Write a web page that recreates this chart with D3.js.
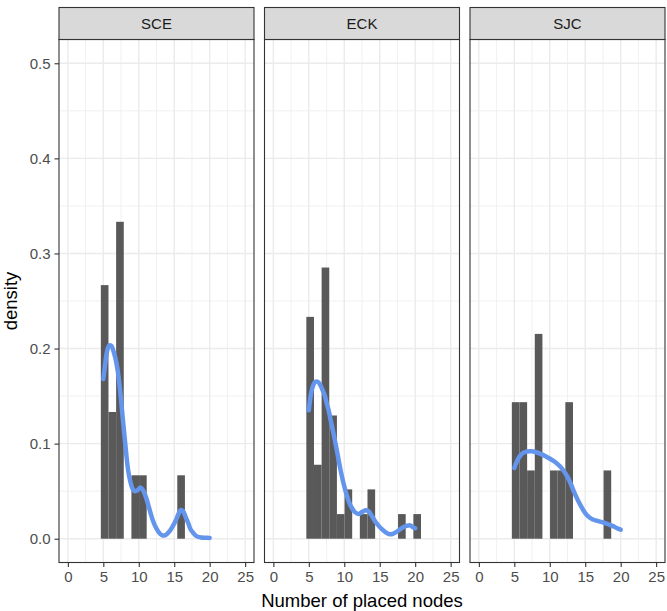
<!DOCTYPE html>
<html><head><meta charset="utf-8">
<script src="https://cdn.jsdelivr.net/npm/d3@7"></script>
<style>body{margin:0;background:#fff} svg{display:block;font-family:"Liberation Sans",Arial,sans-serif}</style>
</head><body><svg id="chart" width="667" height="611"></svg>
<script>
// ---- data ----
const panels = ["SCE", "ECK", "SJC"];
const binStart = 4.65, binWidth = 1.078;
const sceDensity = [0.2667,0.1333,0.3333,0,0.0667,0.0667,0,0,0,0,0.0667,0,0,0,0];
const eckDensity = [0.2333,0.0778,0.2852,0.1296,0.0259,0.0519,0,0.0259,0.0519,0,0,0,0.0259,0,0.0259];
const sjcDensity = [0.1436,0.1436,0.0718,0.2154,0,0.0718,0.0718,0.1436,0,0,0,0,0.0718,0,0];

const sceCurveX = [5,5.25,5.5,5.8,6.1,6.4,6.7,7.0,7.25,7.5,7.75,8.0,8.25,8.5,8.75,9.1,9.4,9.8,10.25,10.6,11.0,11.4,11.7,12.0,12.4,12.8,13.3,13.8,14.25,14.7,15.2,15.6,15.9,16.25,16.6,17.0,17.3,17.7,18.2,18.8,19.4,20];
const sceCurveY = [0.168,0.183,0.196,0.203,0.203,0.198,0.19,0.178,0.164,0.146,0.126,0.107,0.088,0.072,0.062,0.053,0.050,0.051,0.054,0.051,0.044,0.034,0.026,0.019,0.012,0.007,0.0035,0.004,0.007,0.012,0.019,0.026,0.030,0.029,0.023,0.016,0.010,0.006,0.0025,0.0012,0.001,0.0008];
const eckCurveX = [5,5.3,5.6,5.9,6.25,6.6,6.9,7.2,7.5,7.8,8.1,8.5,8.9,9.4,9.9,10.3,10.7,11.1,11.5,12.0,12.5,13.0,13.4,13.8,14.3,14.8,15.3,15.8,16.3,16.8,17.3,17.8,18.3,18.8,19.3,19.7,20];
const eckCurveY = [0.135,0.152,0.161,0.165,0.165,0.162,0.157,0.152,0.143,0.135,0.124,0.110,0.095,0.075,0.058,0.047,0.038,0.032,0.028,0.026,0.028,0.030,0.029,0.025,0.019,0.014,0.010,0.007,0.005,0.005,0.007,0.0095,0.012,0.0135,0.014,0.012,0.011];
const sjcCurveX = [5,5.4,5.8,6.3,6.8,7.4,8.0,8.7,9.4,10.1,10.8,11.4,12.0,12.5,13.0,13.5,14.0,14.5,15.0,15.5,16.0,16.6,17.2,17.8,18.4,19.0,19.5,20];
const sjcCurveY = [0.0745,0.082,0.087,0.0905,0.0918,0.092,0.0912,0.0893,0.0868,0.0838,0.0805,0.0765,0.071,0.065,0.057,0.048,0.040,0.033,0.027,0.023,0.0205,0.019,0.0178,0.0165,0.0148,0.013,0.011,0.0095];

const xTicks = [0,5,10,15,20,25];
const yTicks = [0,0.1,0.2,0.3,0.4,0.5];
const xMinor = [2.5,7.5,12.5,17.5,22.5];
const yMinor = [0.05,0.15,0.25,0.35,0.45];

const densities = [sceDensity, eckDensity, sjcDensity];
const curvesX = [sceCurveX, eckCurveX, sjcCurveX];
const curvesY = [sceCurveY, eckCurveY, sjcCurveY];

// ---- layout ----
const svg = d3.select("#chart");
const left = 59, panelW = 195, gap = 10.5;
const stripTop = 7.5, stripH = 32, panelTop = 39.5, panelBottom = 562.5;

const y = d3.scaleLinear().domain([-0.025, 0.525]).range([panelBottom, panelTop]);

panels.forEach((name, i) => {
  const x0 = left + i * (panelW + gap);
  const x = d3.scaleLinear().domain([-1.25, 26.25]).range([x0, x0 + panelW]);
  const g = svg.append("g");

  // grid
  g.selectAll(".vmin").data(xMinor).join("line")
    .attr("x1", d => x(d)).attr("x2", d => x(d)).attr("y1", panelTop).attr("y2", panelBottom)
    .attr("stroke", "#EBEBEB").attr("stroke-width", 0.7);
  g.selectAll(".hmin").data(yMinor).join("line")
    .attr("x1", x0).attr("x2", x0 + panelW).attr("y1", d => y(d)).attr("y2", d => y(d))
    .attr("stroke", "#EBEBEB").attr("stroke-width", 0.7);
  g.selectAll(".vmaj").data(xTicks).join("line")
    .attr("x1", d => x(d)).attr("x2", d => x(d)).attr("y1", panelTop).attr("y2", panelBottom)
    .attr("stroke", "#EBEBEB").attr("stroke-width", 1.4);
  g.selectAll(".hmaj").data(yTicks).join("line")
    .attr("x1", x0).attr("x2", x0 + panelW).attr("y1", d => y(d)).attr("y2", d => y(d))
    .attr("stroke", "#EBEBEB").attr("stroke-width", 1.4);

  // bars
  const bins = densities[i].map((v, k) => ({x0: binStart + k * binWidth, x1: binStart + (k + 1) * binWidth, v}));
  g.selectAll(".bar").data(bins.filter(b => b.v > 0)).join("rect")
    .attr("x", d => x(d.x0)).attr("width", d => x(d.x1) - x(d.x0))
    .attr("y", d => y(d.v)).attr("height", d => y(0) - y(d.v))
    .attr("fill", "#595959");

  // density curve
  const pts = curvesX[i].map((u, k) => [u, curvesY[i][k]]);
  g.append("path").datum(pts)
    .attr("d", d3.line().x(d => x(d[0])).y(d => y(d[1])).curve(d3.curveCatmullRom))
    .attr("fill", "none").attr("stroke", "#6495ED").attr("stroke-width", 4.5)
    .attr("stroke-linecap", "round").attr("stroke-linejoin", "round");

  // panel border
  g.append("rect").attr("x", x0).attr("y", panelTop).attr("width", panelW).attr("height", panelBottom - panelTop)
    .attr("fill", "none").attr("stroke", "#333333").attr("stroke-width", 1.1);

  // strip
  g.append("rect").attr("x", x0).attr("y", stripTop).attr("width", panelW).attr("height", stripH)
    .attr("fill", "#D9D9D9").attr("stroke", "#333333").attr("stroke-width", 1.1);
  g.append("text").attr("x", x0 + panelW / 2).attr("y", stripTop + stripH / 2).attr("dy", "0.35em")
    .attr("text-anchor", "middle").attr("font-size", 15).attr("fill", "#1A1A1A").text(name);

  // x axis
  const xa = g.append("g").attr("transform", `translate(0,${panelBottom})`)
    .call(d3.axisBottom(x).tickValues(xTicks).tickFormat(d3.format("d")).tickSize(4.5).tickPadding(4));
  xa.select(".domain").remove();
  xa.selectAll("line").attr("stroke", "#333333").attr("stroke-width", 1.1);
  xa.selectAll("text").attr("font-size", 15).attr("fill", "#4D4D4D").attr("font-family", "Liberation Sans, Arial, sans-serif");

  if (i === 0) {
    const ya = g.append("g").attr("transform", `translate(${x0},0)`)
      .call(d3.axisLeft(y).tickValues(yTicks).tickFormat(d3.format(".1f")).tickSize(4.5).tickPadding(4));
    ya.select(".domain").remove();
    ya.selectAll("line").attr("stroke", "#333333").attr("stroke-width", 1.1);
    ya.selectAll("text").attr("font-size", 15).attr("fill", "#4D4D4D").attr("font-family", "Liberation Sans, Arial, sans-serif");
  }
});

// axis titles
svg.append("text").attr("x", (left + left + 3 * panelW + 2 * gap) / 2).attr("y", 606.5)
  .attr("text-anchor", "middle").attr("font-size", 18.5).attr("fill", "#000").text("Number of placed nodes");
svg.append("text").attr("transform", `translate(17,${(panelTop + panelBottom) / 2}) rotate(-90)`)
  .attr("text-anchor", "middle").attr("font-size", 18.5).attr("fill", "#000").text("density");
</script></body></html>
